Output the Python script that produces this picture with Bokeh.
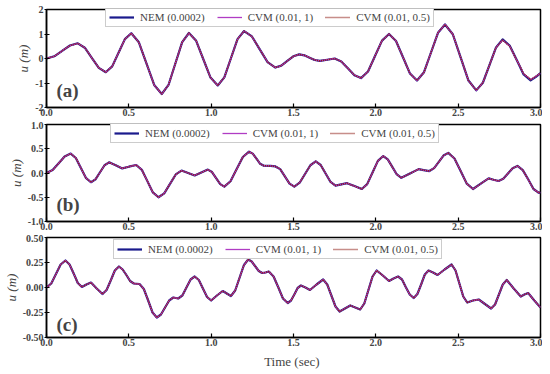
from bokeh.plotting import figure
from bokeh.layouts import column
from bokeh.models import (Legend, LegendItem, Label, FixedTicker,
                          PrintfTickFormatter)
from bokeh.embed import file_html
from bokeh.resources import INLINE

# ---------------- data ----------------
x_ticks = [0.0, 0.5, 1.0, 1.5, 2.0, 2.5, 3.0]
series_names = ["NEM (0.0002)", "CVM (0.01, 1)", "CVM (0.01, 0.5)"]
panel_tags = ["(a)", "(b)", "(c)"]

t_a = [0, 0.0475, 0.095, 0.1425, 0.19, 0.2325, 0.275, 0.3175, 0.36, 0.399, 0.4375, 0.476, 0.515,
       0.561, 0.6075, 0.654, 0.70, 0.741, 0.7825, 0.824, 0.865, 0.909, 0.9525, 0.996, 1.04,
       1.08, 1.12, 1.16, 1.20, 1.2475, 1.295, 1.3425, 1.39, 1.426, 1.4625, 1.499, 1.535,
       1.566, 1.5975, 1.629, 1.66, 1.705, 1.75, 1.79, 1.83, 1.87, 1.91, 1.9525, 1.995, 2.0375, 2.08,
       2.1225, 2.165, 2.2075, 2.25, 2.2925, 2.335, 2.3775, 2.42, 2.4675, 2.515, 2.5625, 2.61,
       2.65, 2.69, 2.73, 2.77, 2.8125, 2.855, 2.8975, 2.94, 2.97, 3.0]
u_a_nem = [0, 0.09, 0.31, 0.53, 0.62, 0.44, 0.03, -0.38, -0.56, -0.32, 0.235, 0.79, 1.03,
           0.66, -0.21, -1.08, -1.45, -1.08, -0.205, 0.67, 1.04, 0.72, -0.03, -0.78, -1.10,
           -0.77, 0.01, 0.79, 1.12, 0.90, 0.375, -0.15, -0.37, -0.29, -0.10, 0.09, 0.17,
           0.13, 0.035, -0.06, -0.10, -0.05, 0.0, -0.12, -0.40, -0.68, -0.80, -0.53, 0.10, 0.73, 1.00,
           0.715, 0.05, -0.615, -0.90, -0.56, 0.245, 1.05, 1.39, 0.99, 0.045, -0.90, -1.30,
           -0.99, -0.27, 0.45, 0.78, 0.53, -0.055, -0.65, -0.89, -0.76, -0.60]
u_a_cvm1 = [0, 0.09, 0.31, 0.53, 0.62, 0.44, 0.03, -0.38, -0.56, -0.32, 0.235, 0.79, 1.03,
            0.66, -0.21, -1.08, -1.45, -1.08, -0.205, 0.67, 1.04, 0.72, -0.03, -0.78, -1.10,
            -0.77, 0.01, 0.79, 1.12, 0.90, 0.375, -0.15, -0.37, -0.29, -0.10, 0.09, 0.17,
            0.13, 0.035, -0.06, -0.10, -0.05, 0.0, -0.12, -0.40, -0.68, -0.80, -0.53, 0.10, 0.73, 1.00,
            0.715, 0.05, -0.615, -0.90, -0.56, 0.245, 1.05, 1.39, 0.99, 0.045, -0.90, -1.30,
            -0.99, -0.27, 0.45, 0.75, 0.51, -0.055, -0.62, -0.86, -0.74, -0.60]
u_a_cvm05 = list(u_a_cvm1)

t_b = [0, 0.037, 0.074, 0.110, 0.147, 0.178, 0.209, 0.239, 0.27, 0.2975, 0.325, 0.3525, 0.38,
       0.42, 0.46, 0.50, 0.545, 0.579, 0.6125, 0.646, 0.68, 0.715, 0.75, 0.785, 0.82,
       0.86, 0.90, 0.94, 0.98, 1.005, 1.03, 1.055, 1.08, 1.1175, 1.155, 1.1925, 1.23,
       1.2525, 1.275, 1.2975, 1.32, 1.36, 1.39, 1.419, 1.4475, 1.476, 1.505,
       1.5375, 1.57, 1.6025, 1.635, 1.665, 1.695, 1.725, 1.755, 1.79, 1.825, 1.87, 1.915,
       1.9475, 1.98, 2.0125, 2.045, 2.0725, 2.1, 2.1275, 2.155, 2.2075, 2.26, 2.29, 2.325,
       2.354, 2.3825, 2.411, 2.44, 2.4775, 2.515, 2.5525, 2.59, 2.6375, 2.685, 2.715, 2.745,
       2.774, 2.8025, 2.831, 2.86, 2.8925, 2.925, 2.9575, 2.99, 3.0]
u_b_nem = [0, 0.06, 0.20, 0.34, 0.40, 0.31, 0.105, -0.10, -0.19, -0.13, 0.015, 0.16, 0.22,
           0.16, 0.095, 0.13, 0.165, 0.065, -0.1675, -0.40, -0.50, -0.42, -0.225, -0.03, 0.05,
           0.0, -0.05, 0.01, 0.07, 0.02, -0.105, -0.23, -0.28, -0.17, 0.08, 0.33, 0.44,
           0.40, 0.295, 0.19, 0.15, 0.145, 0.135, 0.08, -0.07, -0.22, -0.28,
           -0.20, -0.02, 0.16, 0.24, 0.165, -0.01, -0.185, -0.26, -0.235, -0.21, -0.27, -0.33,
           -0.23, 0.01, 0.25, 0.35, 0.28, 0.125, -0.03, -0.10, -0.01, 0.08, 0.06, 0.04,
           0.10, 0.23, 0.36, 0.415, 0.30, 0.04, -0.22, -0.33, -0.22, -0.11, -0.14, -0.165,
           -0.12, -0.01, 0.10, 0.145, 0.06, -0.13, -0.33, -0.41, -0.40]
u_b_cvm1 = list(u_b_nem)
u_b_cvm05 = list(u_b_nem)

t_c = [0, 0.029, 0.0575, 0.086, 0.115, 0.14, 0.165, 0.19, 0.215, 0.2425, 0.27, 0.305, 0.34,
       0.365, 0.39, 0.415, 0.44, 0.4625, 0.485, 0.5075, 0.53, 0.565,
       0.591, 0.6175, 0.644, 0.67, 0.695, 0.72, 0.745, 0.77, 0.80,
       0.825, 0.85, 0.875, 0.90, 0.925, 0.95, 0.975, 1.0, 1.035, 1.07, 1.095, 1.12,
       1.146, 1.1725, 1.199, 1.225, 1.246, 1.2675, 1.289, 1.31, 1.33, 1.35,
       1.379, 1.4075, 1.436, 1.465, 1.485, 1.505, 1.525, 1.545, 1.5725, 1.60, 1.64, 1.68,
       1.705, 1.73, 1.755, 1.78, 1.8125, 1.845, 1.875, 1.905, 1.93, 1.955, 1.98, 2.005,
       2.0425, 2.08, 2.1075, 2.135, 2.159, 2.1825, 2.206, 2.23, 2.2525, 2.275, 2.2975, 2.32,
       2.3475, 2.375, 2.4175, 2.46, 2.484, 2.5075, 2.531, 2.555, 2.59, 2.625, 2.6625, 2.70,
       2.724, 2.7475, 2.771, 2.795, 2.8375, 2.88, 2.9025, 2.925, 2.9625, 3.0]
u_c_nem = [0, 0.04, 0.135, 0.23, 0.27, 0.23, 0.14, 0.045, 0.005, 0.03, 0.05, -0.01, -0.065,
           -0.025, 0.07, 0.17, 0.21, 0.18, 0.125, 0.065, 0.04, 0.035,
           -0.015, -0.13, -0.25, -0.30, -0.27, -0.20, -0.13, -0.10, -0.11,
           -0.08, 0.0, 0.08, 0.11, 0.075, -0.01, -0.095, -0.13, -0.08, -0.035, -0.06, -0.085,
           -0.03, 0.0975, 0.225, 0.28, 0.26, 0.2125, 0.165, 0.145, 0.15, 0.16,
           0.11, 0.0025, -0.11, -0.155, -0.13, -0.07, -0.005, 0.02, 0.0, -0.025, 0.03, 0.08,
           0.03, -0.08, -0.19, -0.24, -0.21, -0.18, -0.20, -0.22, -0.16, -0.025, 0.11, 0.17,
           0.12, 0.065, 0.09, 0.11, 0.08, 0.0025, -0.07, -0.105, -0.065, 0.03, 0.13, 0.17,
           0.15, 0.125, 0.18, 0.23, 0.17, 0.04, -0.09, -0.15, -0.13, -0.12, -0.165, -0.21,
           -0.17, -0.07, 0.03, 0.075, -0.01, -0.09, -0.07, -0.055, -0.13, -0.20]
u_c_cvm1 = list(u_c_nem)
u_c_cvm05 = list(u_c_nem)

# ---------------- styling ----------------
SERIF = "Liberation Serif"
C_NEM = "#1a1a8c"
C_CVM1 = "#b03cc4"
C_CVM05 = "#8e1c14"

panels = [
    dict(t=t_a, ys=[u_a_nem, u_a_cvm1, u_a_cvm05], yr=(-2, 2), yt=[-2, -1, 0, 1, 2], fmt="%d",
         h=121, top=9, bot=14, tag_xy=(0.06, -1.74), leg=(59, 80), xlabel=None),
    dict(t=t_b, ys=[u_b_nem, u_b_cvm1, u_b_cvm05], yr=(-1, 1), yt=[-1.0, -0.5, 0.0, 0.5, 1.0], fmt="%.1f",
         h=113, top=3, bot=13, tag_xy=(0.06, -0.86), leg=(64, 78), xlabel=None),
    dict(t=t_c, ys=[u_c_nem, u_c_cvm1, u_c_cvm05], yr=(-0.5, 0.5), yt=[-0.5, -0.25, 0.0, 0.25, 0.5], fmt="%.2f",
         h=137, top=3, bot=33, tag_xy=(0.06, -0.47), leg=(67, 78), xlabel="Time  (sec)"),
]

figs = []
for i, pd_ in enumerate(panels):
    p = figure(width=542, height=pd_["h"], x_range=(0, 3.0), y_range=pd_["yr"],
               output_backend="svg", toolbar_location=None,
               min_border_left=43, min_border_right=2,
               min_border_top=pd_["top"], min_border_bottom=pd_["bot"])
    p.grid.visible = False
    p.outline_line_color = "black"
    p.outline_line_width = 1.5
    p.background_fill_color = "white"
    p.border_fill_color = "white"

    r1 = p.line(pd_["t"], pd_["ys"][0], line_color=C_NEM, line_width=2.2, line_join="round")
    r2 = p.line(pd_["t"], pd_["ys"][1], line_color=C_CVM1, line_width=1.3, line_join="round")
    r3 = p.line(pd_["t"], pd_["ys"][2], line_color=C_CVM05, line_width=1.5, line_dash="1 1")

    xa = p.xaxis[0]
    xa.ticker = FixedTicker(ticks=x_ticks, minor_ticks=[])
    xa.formatter = PrintfTickFormatter(format="%.1f")
    xa.major_tick_in = 4
    xa.major_tick_out = 0
    xa.minor_tick_line_color = None
    xa.major_label_standoff = 1
    xa.axis_line_width = 1.5
    xa.major_tick_line_width = 1.2
    xa.major_label_text_font = SERIF
    xa.major_label_text_font_style = "bold"
    xa.major_label_text_font_size = "10px"
    if pd_["xlabel"]:
        xa.axis_label = pd_["xlabel"]
        xa.axis_label_text_font = SERIF
        xa.axis_label_text_font_style = "normal"
        xa.axis_label_text_font_size = "13px"
        xa.axis_label_standoff = 5

    ya = p.yaxis[0]
    ya.ticker = FixedTicker(ticks=pd_["yt"], minor_ticks=[])
    ya.formatter = PrintfTickFormatter(format=pd_["fmt"])
    ya.major_tick_in = 3
    ya.major_tick_out = 2
    ya.minor_tick_line_color = None
    ya.major_label_standoff = 1
    ya.axis_line_width = 1.5
    ya.major_tick_line_width = 1.2
    ya.major_label_text_font = SERIF
    ya.major_label_text_font_style = "bold"
    ya.major_label_text_font_size = "10px"
    ya.axis_label = "u (m)"
    ya.axis_label_text_font = SERIF
    ya.axis_label_text_font_style = "italic"
    ya.axis_label_text_font_size = "13px"
    ya.axis_label_standoff = 1

    legend = Legend(items=[LegendItem(label=series_names[0], renderers=[r1]),
                           LegendItem(label=series_names[1], renderers=[r2]),
                           LegendItem(label=series_names[2], renderers=[r3])],
                    orientation="horizontal", location=pd_["leg"], margin=0,
                    padding=3, spacing=12, label_standoff=6, glyph_width=25,
                    glyph_height=10, label_height=10,
                    label_text_font=SERIF, label_text_font_size="11px",
                    border_line_color="#9a9a9a", border_line_width=1,
                    background_fill_alpha=1.0)
    p.add_layout(legend)

    tx, ty = pd_["tag_xy"]
    p.add_layout(Label(x=tx, y=ty, text=panel_tags[i], text_font=SERIF,
                       text_font_style="bold", text_font_size="19px",
                       text_baseline="bottom"))
    figs.append(p)

layout = column(*figs, spacing=0)
open("out.html", "w").write(file_html(layout, INLINE))
